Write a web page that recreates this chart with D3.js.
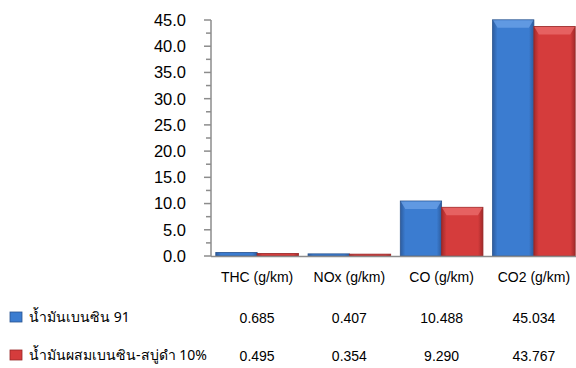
<!DOCTYPE html>
<html><head><meta charset="utf-8">
<script src="https://cdn.jsdelivr.net/npm/d3@7"></script>
<style>body{margin:0;background:#fff}svg{display:block}</style>
</head><body>
<script>
const categories = ["THC (g/km)", "NOx (g/km)", "CO (g/km)", "CO2 (g/km)"];
const seriesNames = ["น้ำมันเบนซิน 91", "น้ำมันผสมเบนซิน-สบู่ดำ 10%"];
const seriesA = [0.685, 0.407, 10.488, 45.034];
const seriesB = [0.495, 0.354, 9.290, 43.767];
const seriesLabelsA = ["0.685", "0.407", "10.488", "45.034"];
const seriesLabelsB = ["0.495", "0.354", "9.290", "43.767"];
const yTicks = [0, 5, 10, 15, 20, 25, 30, 35, 40, 45];

const W = 576, H = 368;
const svg = d3.select("body").append("svg").attr("width", W).attr("height", H);
const font = "'Liberation Sans', Arial, sans-serif";

const x = d3.scaleBand().domain(categories).range([211, 580]).paddingInner(0.104).paddingOuter(0.052);
const xs = d3.scaleBand().domain([0, 1]).range([0, x.bandwidth()]);
const y = d3.scaleLinear().domain([0, 45]).range([256, 20]);

const defs = svg.append("defs");
function grad(id, edge, mid) {
  const g = defs.append("linearGradient").attr("id", id).attr("x1", 0).attr("x2", 1).attr("y1", 0).attr("y2", 0);
  g.append("stop").attr("offset", "0%").attr("stop-color", edge);
  g.append("stop").attr("offset", "12%").attr("stop-color", mid);
  g.append("stop").attr("offset", "88%").attr("stop-color", mid);
  g.append("stop").attr("offset", "100%").attr("stop-color", edge);
}
grad("gA", "#2d5c9e", "#3b7cd0");
grad("gB", "#a22a2a", "#d53c3c");
const colors = [{fill: "url(#gA)", top: "#6aa0e6", stroke: "#2a548f", solid: "#3b7cd0"},
                {fill: "url(#gB)", top: "#ea6a6a", stroke: "#972626", solid: "#d53c3c"}];

// axis ticks
const axisColor = "#8c8c8c";
const g = svg.append("g");
g.append("line").attr("x1", 211).attr("x2", 211).attr("y1", 20).attr("y2", 256).attr("stroke", axisColor).attr("stroke-width", 1.5);
const minor = d3.range(0, 45, 2.5).filter(v => v % 5 !== 0);
g.selectAll("line.maj").data(yTicks).enter().append("line")
  .attr("x1", 204).attr("x2", 211).attr("y1", d => y(d)).attr("y2", d => y(d)).attr("stroke", axisColor).attr("stroke-width", 1.5);
g.selectAll("line.min").data(minor).enter().append("line")
  .attr("x1", 206).attr("x2", 211).attr("y1", d => y(d)).attr("y2", d => y(d)).attr("stroke", axisColor).attr("stroke-width", 1.5);
g.selectAll("text.yl").data(yTicks).enter().append("text")
  .attr("x", 186).attr("y", d => y(d)).attr("dy", "0.36em").attr("text-anchor", "end")
  .attr("font-family", font).attr("font-size", 16.5).attr("fill", "#000").text(d => d.toFixed(1));

// bars
const data = [seriesA, seriesB];
data.forEach((vals, si) => {
  const c = colors[si];
  const bg = svg.append("g");
  vals.forEach((v, i) => {
    const bx = x(categories[i]) + xs(si), bw = xs.bandwidth(), by = y(v), bh = y(0) - y(v);
    bg.append("rect").attr("x", bx).attr("y", by).attr("width", bw).attr("height", bh)
      .attr("fill", c.fill).attr("stroke", c.stroke).attr("stroke-width", 0.8);
    const th = Math.min(8, bh);
    if (bh > 4) {
      bg.append("path").attr("d", `M${bx+0.5},${by+0.5} L${bx+bw-0.5},${by+0.5} L${bx+bw-5},${by+th} L${bx+5},${by+th} Z`)
        .attr("fill", c.top).attr("opacity", 0.8);
    }
  });
});

// baseline
svg.append("line").attr("x1", 211).attr("x2", 576).attr("y1", 256.5).attr("y2", 256.5).attr("stroke", axisColor).attr("stroke-width", 1.5);

// category labels
svg.selectAll("text.cat").data(categories).enter().append("text")
  .attr("x", d => x(d) + x.bandwidth() / 2).attr("y", 277).attr("dy", "0.36em").attr("text-anchor", "middle")
  .attr("font-family", font).attr("font-size", 14).attr("fill", "#000").text(d => d);

// table
const rows = [{name: seriesNames[0], labels: seriesLabelsA, c: colors[0], y: 317},
              {name: seriesNames[1], labels: seriesLabelsB, c: colors[1], y: 355}];
rows.forEach(r => {
  svg.append("rect").attr("x", 10).attr("y", r.y - 5).attr("width", 12).attr("height", 10)
    .attr("fill", r.c.solid).attr("stroke", r.c.stroke).attr("stroke-width", 0.8);
  svg.append("text").attr("x", 29).attr("y", r.y).attr("dy", "0.36em")
    .attr("font-family", "'Noto Sans', 'Liberation Sans', sans-serif").attr("font-size", 14).attr("fill", "#000").text(r.name);
  svg.selectAll(null).data(categories).enter().append("text")
    .attr("x", d => x(d) + x.bandwidth() / 2).attr("y", r.y + 1).attr("dy", "0.36em").attr("text-anchor", "middle")
    .attr("font-family", font).attr("font-size", 14).attr("fill", "#000").text((d, i) => r.labels[i]);
});
</script>
</body></html>
